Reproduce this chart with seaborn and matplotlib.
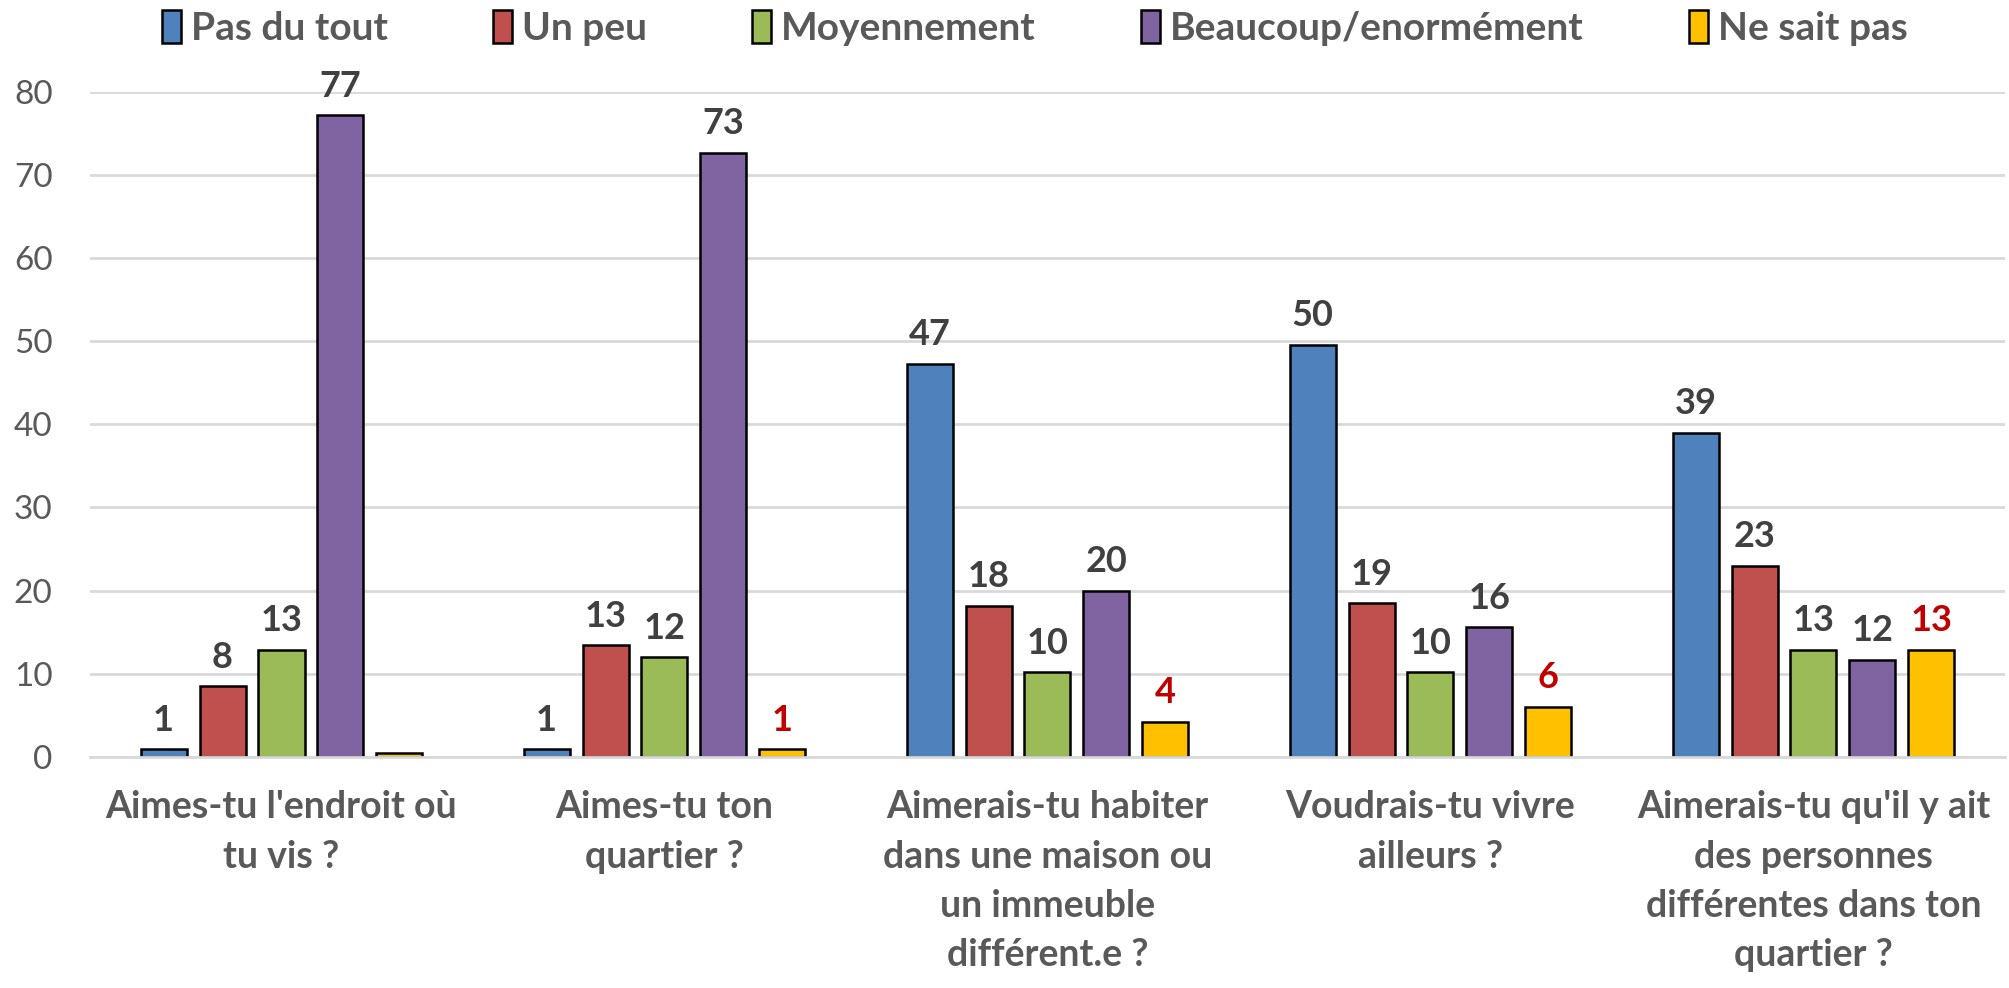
import matplotlib
matplotlib.use("Agg")
import matplotlib.pyplot as plt
import matplotlib.patches as mpatches
import pandas as pd
import seaborn as sns

# ── Data ──────────────────────────────────────────────────────────────────────
questions = [
    "Aimes-tu l'endroit où\ntu vis ?",
    "Aimes-tu ton\nquartier ?",
    "Aimerais-tu habiter\ndans une maison ou\nun immeuble\ndifférent.e ?",
    "Voudrais-tu vivre\nailleurs ?",
    "Aimerais-tu qu'il y ait\ndes personnes\ndifférentes dans ton\nquartier ?",
]
responses = ["Pas du tout", "Un peu", "Moyennement", "Beaucoup/enormément", "Ne sait pas"]

pas_du_tout = [0.9, 0.9, 47.3, 49.6, 39.0]
un_peu = [8.5, 13.4, 18.2, 18.5, 23.0]
moyennement = [12.9, 12.0, 10.2, 10.2, 12.9]
beaucoup = [77.2, 72.7, 20.0, 15.6, 11.7]
ne_sait_pas = [0.5, 0.9, 4.2, 6.0, 12.9]

labels_pas_du_tout = ["1", "1", "47", "50", "39"]
labels_un_peu = ["8", "13", "18", "19", "23"]
labels_moyennement = ["13", "12", "10", "10", "13"]
labels_beaucoup = ["77", "73", "20", "16", "12"]
labels_ne_sait_pas = ["", "1", "4", "6", "13"]

y_ticks = [0, 10, 20, 30, 40, 50, 60, 70, 80]

# ── Style ─────────────────────────────────────────────────────────────────────
COLORS = {
    "Pas du tout": "#4F81BD",
    "Un peu": "#C0504D",
    "Moyennement": "#9BBB59",
    "Beaucoup/enormément": "#8064A2",
    "Ne sait pas": "#FFC000",
}
TEXT = "#595959"
LABEL = "#404040"
GRID = "#D9D9D9"

sns.set_style("white")
plt.rcParams["font.family"] = ["Lato", "DejaVu Sans"]

series = [pas_du_tout, un_peu, moyennement, beaucoup, ne_sait_pas]
series_labels = [labels_pas_du_tout, labels_un_peu, labels_moyennement,
                 labels_beaucoup, labels_ne_sait_pas]

rows = []
for resp, vals in zip(responses, series):
    for q, v in zip(questions, vals):
        rows.append({"question": q, "response": resp, "value": v})
df = pd.DataFrame(rows)

fig = plt.figure(figsize=(20.09, 9.88), dpi=100)
ax = fig.add_axes([0.0448, 0.234, 0.9532, 0.673])

sns.barplot(data=df, x="question", y="value", hue="response",
            order=questions, hue_order=responses, palette=COLORS,
            saturation=1, width=0.77, gap=0.22, edgecolor="black", linewidth=1.8,
            errorbar=None, ax=ax, legend=False)

# data labels (the "Ne sait pas" ones are red)
for cont, labs, resp in zip(ax.containers, series_labels, responses):
    col = "#C00000" if resp == "Ne sait pas" else LABEL
    texts = ax.bar_label(cont, labels=labs, padding=9, fontsize=26,
                         fontweight="bold", color=col)
    for t in texts:
        t.set_clip_on(False)

ax.set_ylim(0, 80)
ax.set_yticks(y_ticks)
ax.set_xlim(-0.5, len(questions) - 0.5)
ax.yaxis.grid(True, color=GRID, linewidth=2)
ax.set_axisbelow(True)
for name, spine in ax.spines.items():
    spine.set_visible(name == "bottom")
ax.spines["bottom"].set_color(GRID)
ax.spines["bottom"].set_linewidth(2)
ax.tick_params(axis="y", length=0, labelsize=24, labelcolor=TEXT, pad=27)
ax.tick_params(axis="x", length=0, pad=24)
ax.set_xticks(range(len(questions)))
ax.set_xticklabels(questions, fontsize=27, fontweight="bold", color=TEXT,
                   linespacing=1.55)
ax.set_xlabel("")
ax.set_ylabel("")

handles = [mpatches.Patch(facecolor=COLORS[r], edgecolor="black", linewidth=1.8, label=r)
           for r in responses]
fig.legend(handles=handles, loc="upper center", bbox_to_anchor=(0.515, 1.025),
           ncol=5, frameon=False, labelcolor=TEXT,
           handlelength=0.5, handleheight=0.9, handletextpad=0.25, columnspacing=2.7,
           prop={"weight": "bold", "size": 28})

fig.savefig("out.png", dpi=100)
plt.close(fig)
